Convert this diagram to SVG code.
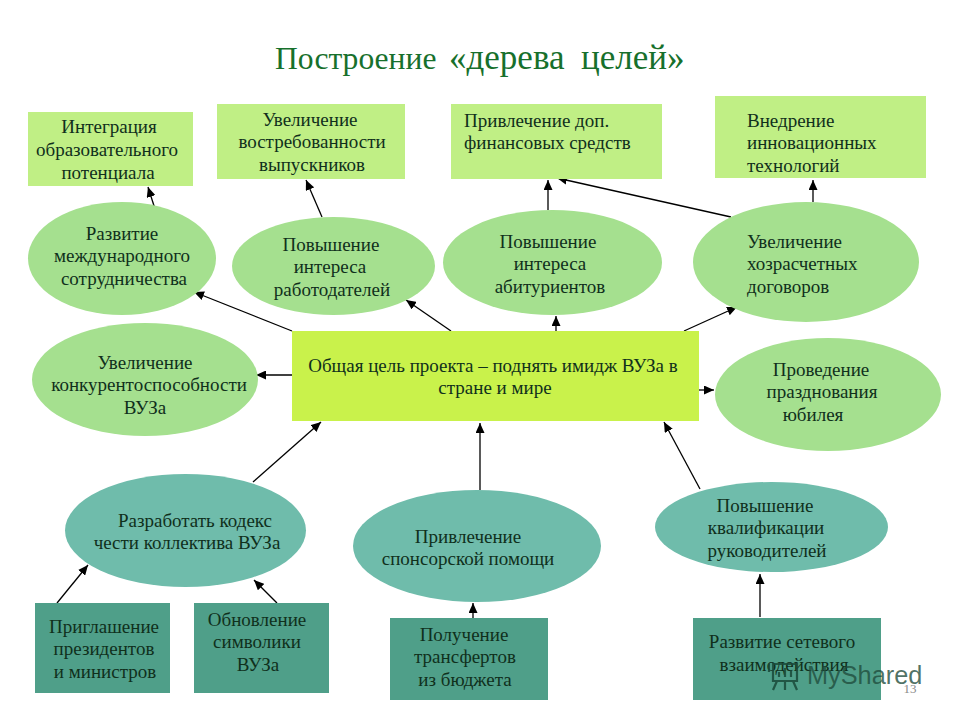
<svg xmlns="http://www.w3.org/2000/svg" width="960" height="720" viewBox="0 0 960 720">
<style>
text{font-family:"Liberation Serif","Times New Roman",serif;font-size:19px;fill:#10301c;text-anchor:middle;transform:translateY(.6px)}
.l{text-anchor:start}
.a{fill:#c0ef85}.b{fill:#a5e08f}.c{fill:#6fbcab}.d{fill:#4f9f89}
.t{fill:#17702c;text-anchor:start}
#connectors line{stroke:#000;stroke-width:1.3;marker-end:url(#ah)}
</style>
<defs><marker id="ah" markerUnits="userSpaceOnUse" markerWidth="11" markerHeight="9" refX="10" refY="4.5" orient="auto"><path d="M0 0L10 4.5L0 9z" fill="#000"/></marker></defs>
<rect width="960" height="720" fill="#fff"/>
<text class="t" x="275" y="68" style="font-size:31.600px">Построение</text>
<text class="t" x="449" y="68" style="font-size:35px">«дерева</text>
<text class="t" x="581" y="68" style="font-size:35px">целей»</text>
<g id="connectors">
<line x1="155" y1="209" x2="148" y2="187"/>
<line x1="322" y1="217" x2="306" y2="180"/>
<line x1="548" y1="210" x2="548" y2="180"/>
<line x1="731" y1="217" x2="557" y2="178"/>
<line x1="813" y1="202" x2="813" y2="180"/>
<line x1="292" y1="331" x2="194" y2="292"/>
<line x1="451" y1="331" x2="406" y2="300"/>
<line x1="556" y1="331" x2="556" y2="316"/>
<line x1="684" y1="331" x2="737" y2="307"/>
<line x1="292" y1="375" x2="256" y2="375"/>
<line x1="699" y1="390" x2="714" y2="390"/>
<line x1="253" y1="482" x2="321" y2="422"/>
<line x1="480" y1="490" x2="480" y2="423"/>
<line x1="700" y1="489" x2="664" y2="422"/>
<line x1="57" y1="603" x2="88" y2="565"/>
<line x1="277" y1="603" x2="254" y2="580"/>
<line x1="473" y1="618" x2="473" y2="603"/>
<line x1="760" y1="617" x2="760" y2="574"/>
</g>
<g id="n1"><rect class="a" x="28" y="112" width="165" height="74"/><text x="109" y="132">Интеграция</text><text x="107" y="155">образовательного</text><text x="108" y="178">потенциала</text></g>
<g id="n2"><rect class="a" x="217" y="104" width="188" height="75"/><text x="310" y="125">Увеличение</text><text x="312" y="147">востребованности</text><text x="312" y="170">выпускников</text></g>
<g id="n3"><rect class="a" x="451" y="104" width="211" height="75"/><text class="l" x="464" y="126">Привлечение доп.</text><text class="l" x="464" y="148">финансовых средств</text></g>
<g id="n4"><rect class="a" x="715" y="96" width="211" height="82"/><text class="l" x="747" y="126">Внедрение</text><text class="l" x="747" y="148">инновационных</text><text class="l" x="747" y="171">технологий</text></g>
<g id="n5"><ellipse class="b" cx="122" cy="258.500" rx="94" ry="56.500"/><text x="122" y="239">Развитие</text><text x="122" y="261">международного</text><text x="124" y="284">сотрудничества</text></g>
<g id="n6"><ellipse class="b" cx="333.500" cy="266" rx="101.500" ry="49"/><text x="331" y="250">Повышение</text><text x="330" y="272">интереса</text><text x="332" y="295">работодателей</text></g>
<g id="n7"><ellipse class="b" cx="552.500" cy="262.500" rx="109.500" ry="52.500"/><text x="548" y="247">Повышение</text><text x="550" y="269">интереса</text><text x="550" y="292">абитуриентов</text></g>
<g id="n8"><ellipse class="b" cx="806" cy="262" rx="113" ry="60"/><text class="l" x="747" y="247">Увеличение</text><text class="l" x="747" y="269">хозрасчетных</text><text class="l" x="747" y="292">договоров</text></g>
<g id="n9"><rect x="292" y="331" width="407" height="90" fill="#c9f24b"/><text x="493" y="371">Общая цель проекта – поднять имидж ВУЗа в</text><text x="495" y="393">стране и мире</text></g>
<g id="n10"><ellipse class="b" cx="145" cy="379.500" rx="113" ry="56.500"/><text x="145" y="368">Увеличение</text><text x="149" y="390">конкурентоспособности</text><text x="145" y="413">ВУЗа</text></g>
<g id="n11"><ellipse class="b" cx="828" cy="394.500" rx="113" ry="56.500"/><text x="821" y="375">Проведение</text><text x="822" y="397">празднования</text><text x="813" y="420">юбилея</text></g>
<g id="n12"><ellipse class="c" cx="185.500" cy="530.500" rx="120.500" ry="56.500"/><text x="195" y="526">Разработать кодекс</text><text x="187" y="548">чести коллектива ВУЗа</text></g>
<g id="n13"><ellipse class="c" cx="477" cy="546" rx="124" ry="56"/><text x="468" y="542">Привлечение</text><text x="468" y="564">спонсорской помощи</text></g>
<g id="n14"><ellipse class="c" cx="771.500" cy="527" rx="116.500" ry="45"/><text x="765" y="511">Повышение</text><text x="766" y="533">квалификации</text><text x="767" y="556">руководителей</text></g>
<g id="n15"><rect class="d" x="35" y="603" width="135" height="90"/><text x="104" y="632">Приглашение</text><text x="104" y="654">президентов</text><text x="105" y="677">и министров</text></g>
<g id="n16"><rect class="d" x="194" y="603" width="135" height="90"/><text x="257" y="625">Обновление</text><text x="257" y="647">символики</text><text x="258" y="670">ВУЗа</text></g>
<g id="n17"><rect class="d" x="390" y="618" width="158" height="82"/><text x="464" y="640">Получение</text><text x="465" y="662">трансфертов</text><text x="465" y="685">из бюджета</text></g>
<g id="n18"><rect class="d" x="693" y="618" width="188" height="82"/><text x="782" y="647">Развитие сетевого</text><text x="784" y="670">взаимодействия</text></g>
<g id="watermark" fill="none" stroke="#1a4a3a" stroke-width="2.200" opacity=".85"><path d="M773 664H797V681H773ZM769 664V672M777 681L773 690M785 681V690M793 681L797 690"/><path d="M779 677V672M785 677V668M791 677V670"/></g>
<text x="807" y="683" class="l" style="font-family:'Liberation Sans',sans-serif;font-size:25.300px;fill:#1f4d3d;fill-opacity:.8">MyShared</text>
<text x="910" y="692" style="font-size:13px;fill:#8a8a8a">13</text>
</svg>
